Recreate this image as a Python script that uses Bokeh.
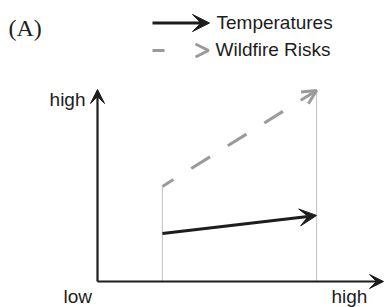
from bokeh.plotting import figure
from bokeh.models import Arrow, VeeHead, OpenHead, Range1d, ColumnDataSource
from bokeh.core.properties import value
from bokeh.embed import file_html
from bokeh.resources import INLINE

# ---- data (schematic, axis units 0..1) ----
scenario_x = [0.227, 0.766]          # low -> high (x positions of the two scenarios)
temperatures = [0.25, 0.344]         # black solid arrow
wildfire_risks = [0.495, 0.995]      # grey dashed arrow
x_labels = ["low", "high"]
y_label = "high"
legend_labels = ["Temperatures", "Wildfire Risks"]
panel_label = "(A)"

# ---- layout helpers (reference pixel -> data units) ----
OX, OY, XPX, YPX = 97.0, 281.0, 286.0, 192.0
def dx(px):
    return (px - OX) / XPX
def dy(py):
    return (OY - py) / YPX

W, H = 385, 307
p = figure(width=W, height=H, output_backend="svg", toolbar_location=None,
           x_range=Range1d(dx(0), dx(W)), y_range=Range1d(dy(H), dy(0)),
           min_border=0)
p.axis.visible = False
p.grid.visible = False
p.outline_line_color = None
p.background_fill_color = "white"
p.border_fill_color = "white"

BLACK = "#1e1c1d"
GREY = "#9a9a9a"
THIN = "#c9c9c9"
FONT = "Liberation Sans"
FS = "19px"

# thin vertical guide lines
p.segment(x0=scenario_x, y0=[0, 0], x1=scenario_x, y1=wildfire_risks,
          line_color=THIN, line_width=1.2)

# axes arrows
axes_src = ColumnDataSource(dict(x0=[0, 0], y0=[0, 0], x1=[1.0, 0], y1=[0, 1.0]))
p.add_layout(Arrow(source=axes_src, x_start="x0", y_start="y0", x_end="x1", y_end="y1",
                   line_color=BLACK, line_width=2.2,
                   end=VeeHead(size=14, fill_color=BLACK, line_color=BLACK, line_width=1)))

# wildfire risks (grey dashed, open head)
wf_src = ColumnDataSource(dict(x0=[scenario_x[0]], y0=[wildfire_risks[0]],
                               x1=[scenario_x[1]], y1=[wildfire_risks[1]]))
p.add_layout(Arrow(source=wf_src, x_start="x0", y_start="y0", x_end="x1", y_end="y1",
                   line_color=GREY, line_width=3, line_dash="22 21", line_dash_offset=9,
                   end=OpenHead(size=14, line_color=GREY, line_width=3)))

# temperatures (black solid)
t_src = ColumnDataSource(dict(x0=[scenario_x[0]], y0=[temperatures[0]],
                              x1=[scenario_x[1]], y1=[temperatures[1]]))
p.add_layout(Arrow(source=t_src, x_start="x0", y_start="y0", x_end="x1", y_end="y1",
                   line_color=BLACK, line_width=3,
                   end=VeeHead(size=17, fill_color=BLACK, line_color=BLACK, line_width=1)))

# legend
p.add_layout(Arrow(x_start=dx(152), y_start=dy(22.5), x_end=dx(209), y_end=dy(22.5),
                   line_color=BLACK, line_width=3,
                   end=VeeHead(size=17, fill_color=BLACK, line_color=BLACK, line_width=1)))
p.add_layout(Arrow(x_start=dx(152), y_start=dy(50), x_end=dx(208), y_end=dy(50),
                   line_color=GREY, line_width=3, line_dash="12 100",
                   end=OpenHead(size=13, line_color=GREY, line_width=3)))

SH = 7  # baseline correction (px)
p.text(x=[dx(216), dx(215)], y=[dy(28.5 - SH), dy(56 - SH)], text=legend_labels,
       text_font=value(FONT), text_font_size=FS, text_color=BLACK,
       text_baseline="alphabetic")

# panel label
p.text(x=[dx(8)], y=[dy(36 - SH - 2)], text=[panel_label], text_font=value("Liberation Serif"),
       text_font_size="24px", text_color=BLACK, text_baseline="alphabetic")

# axis labels
p.text(x=[dx(85)], y=[dy(106 - SH)], text=[y_label], text_font=value(FONT), text_font_size=FS,
       text_color=BLACK, text_align="right", text_baseline="alphabetic")
p.text(x=[dx(63), dx(331)], y=[dy(303 - SH), dy(303 - SH)], text=x_labels, text_font=value(FONT),
       text_font_size=FS, text_color=BLACK, text_baseline="alphabetic")

open("out.html", "w").write(file_html(p, INLINE))
